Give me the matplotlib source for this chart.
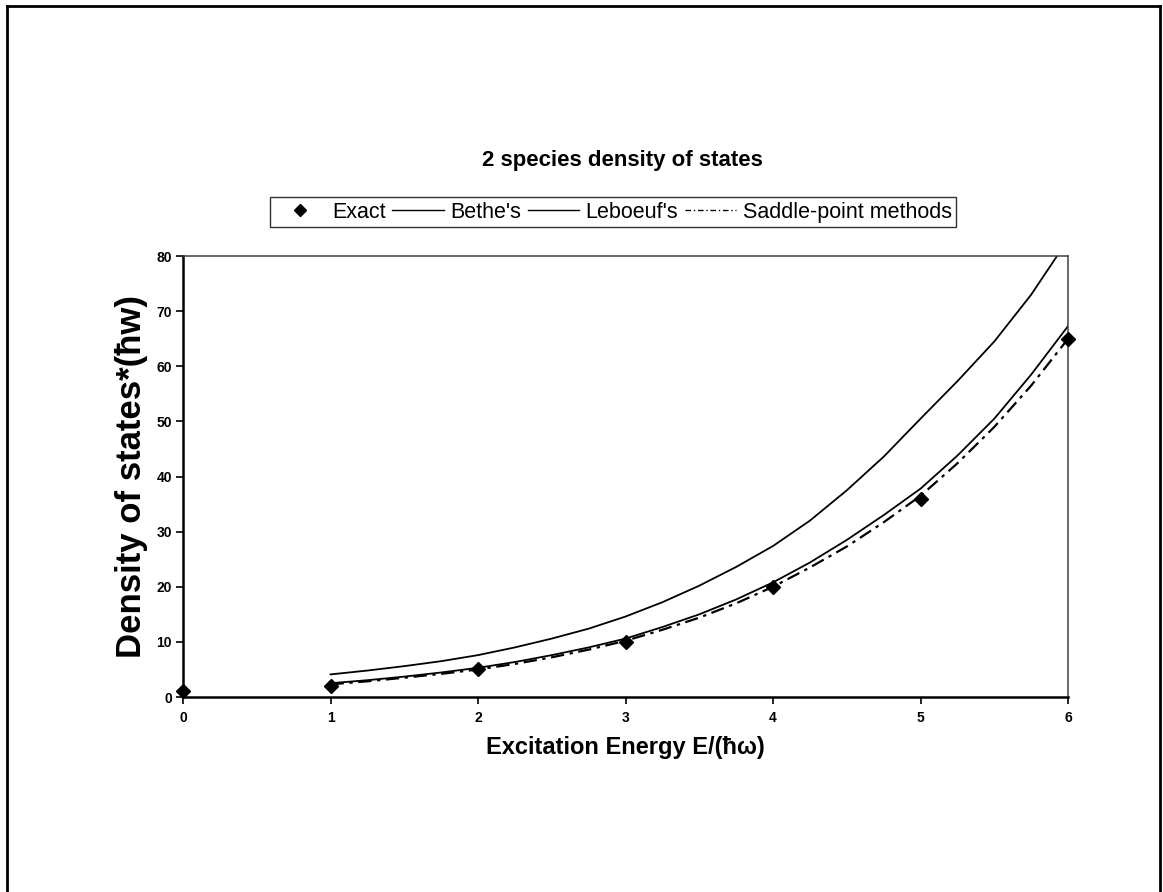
#!/usr/bin/env python
# -*- coding: utf-8 -*-

'''
2 species density of states: exact values against three approximations
'''

import matplotlib
matplotlib.use("Agg")
import matplotlib.pyplot as plt
from matplotlib.lines import Line2D

plt.rcParams['font.family'] = ['Liberation Sans', 'DejaVu Sans']

# exact values at integer excitation energies
exactE = [0, 1, 2, 3, 4, 5, 6]
exactRho = [1, 2, 5, 10, 20, 36, 65]

# approximations, every quarter unit
curveE = [1.0, 1.25, 1.5, 1.75, 2.0, 2.25, 2.5, 2.75, 3.0, 3.25, 3.5,
          3.75, 4.0, 4.25, 4.5, 4.75, 5.0, 5.25, 5.5, 5.75, 6.0]
betheRho = [4.1, 4.8, 5.6, 6.5, 7.6, 9.0, 10.6, 12.4, 14.6, 17.2, 20.2,
            23.6, 27.4, 32.0, 37.5, 43.6, 50.5, 57.3, 64.5, 73.0, 83.0]
leboeufRho = [2.5, 3.05, 3.7, 4.45, 5.3, 6.35, 7.6, 9.0, 10.6, 12.7, 15.0,
              17.7, 20.8, 24.4, 28.5, 33.0, 37.8, 43.8, 50.5, 58.5, 67.3]
saddleRho = [2.3, 2.85, 3.5, 4.2, 5.0, 6.0, 7.2, 8.6, 10.2, 12.2, 14.4,
             17.0, 20.0, 23.5, 27.3, 31.7, 36.5, 42.4, 49.0, 56.5, 65.0]

xTicks = [0, 1, 2, 3, 4, 5, 6]
yTicks = [0, 10, 20, 30, 40, 50, 60, 70, 80]


def main():
    fig = plt.figure(figsize=(11.63, 8.92), dpi=100)
    ax = fig.add_axes([0.1574, 0.2186, 0.7610, 0.4944])

    ax.plot(curveE, betheRho, color='black', linewidth=1.3, label="Bethe's")
    ax.plot(curveE, leboeufRho, color='black', linewidth=1.3, label="Leboeuf's")
    ax.plot(curveE, saddleRho, color='black', linewidth=1.6,
            linestyle=(0, (6, 2.5, 1.5, 2.5)), label="Saddle-point methods")
    ax.plot(exactE, exactRho, linestyle='none', marker='D', markersize=7,
            color='black', label="Exact", clip_on=False, zorder=5)

    ax.set_xlim(0, 6)
    ax.set_ylim(0, 80)
    ax.set_xticks(xTicks)
    ax.set_yticks(yTicks)
    for label in ax.get_xticklabels() + ax.get_yticklabels():
        label.set_fontweight('bold')
        label.set_fontsize(10)
    ax.tick_params(axis='x', direction='out', length=5, width=1.2, pad=5)
    ax.tick_params(axis='y', direction='out', length=5, width=1.2, pad=3)

    ax.spines['left'].set_linewidth(1.8)
    ax.spines['bottom'].set_linewidth(1.8)
    for side in ['top', 'right']:
        ax.spines[side].set_linewidth(1.1)
        ax.spines[side].set_color('0.25')

    ax.set_xlabel("Excitation Energy E/(ħω)", fontsize=17, fontweight='bold',
                  labelpad=8)
    ax.set_ylabel("Density of states*(ħw)", fontsize=25, fontweight='bold',
                  labelpad=6)

    fig.text(0.535, 0.820, "2 species density of states", fontsize=16,
             fontweight='bold', ha='center', va='center')

    handles = [
        Line2D([], [], linestyle='none', marker='D', markersize=6, color='black'),
        Line2D([], [], color='black', linewidth=1.0),
        Line2D([], [], color='black', linewidth=1.0),
        Line2D([], [], color='black', linewidth=1.0,
               linestyle=(0, (4, 2, 1, 2))),
    ]
    labels = ["Exact", "Bethe's", "Leboeuf's", "Saddle-point methods"]
    leg = fig.legend(handles, labels, loc='center', ncol=4,
                     bbox_to_anchor=(0.527, 0.762), fontsize=15.5,
                     frameon=True, fancybox=False, handlelength=2.4,
                     handletextpad=0.3, columnspacing=0.3, borderpad=0.2)
    leg.get_frame().set_edgecolor('black')
    leg.get_frame().set_linewidth(1.0)

    # outer frame of the page
    fig.add_artist(Line2D([0.006, 0.006], [0.0, 0.993], color='black',
                          linewidth=2.0, transform=fig.transFigure))
    fig.add_artist(Line2D([0.006, 0.997], [0.993, 0.993], color='black',
                          linewidth=2.0, transform=fig.transFigure))
    fig.add_artist(Line2D([0.997, 0.997], [0.0, 0.993], color='black',
                          linewidth=2.0, transform=fig.transFigure))

    fig.savefig("out.png", dpi=100, facecolor='white')


if (__name__ == "__main__"):
    main()
